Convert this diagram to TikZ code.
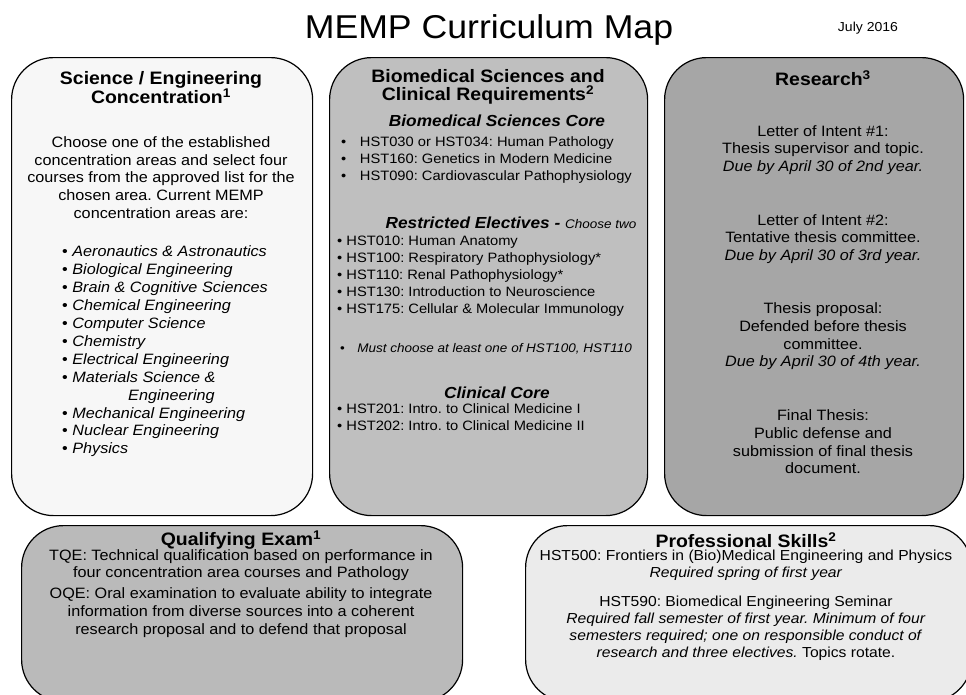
\documentclass[tikz,border=0pt]{standalone}
\usepackage{fontspec}
\setmainfont{Liberation Sans}[FakeStretch=1.08]
\usetikzlibrary{positioning}
\frenchspacing
\definecolor{sciFill}{HTML}{F7F7F7}
\definecolor{bioFill}{HTML}{BFBFBF}
\definecolor{resFill}{HTML}{A6A6A6}
\definecolor{quaFill}{HTML}{BABABA}
\definecolor{proFill}{HTML}{EBEBEB}
\newcommand\blt{\textbullet\ }
\tikzset{
  panel/.style={draw=black, line width=1.2pt, rounded corners=42pt, anchor=north west, inner sep=0pt},
  head/.style={font=\bfseries\fontsize{18}{19}\selectfont, align=center, inner sep=0pt},
  sub/.style={font=\bfseries\itshape\fontsize{16}{18}\selectfont, inner sep=0pt},
  body/.style={font=\fontsize{15}{17.7}\selectfont, align=center, inner sep=0pt},
  list/.style={font=\fontsize{13.6}{17}\selectfont, align=left, anchor=west, inner sep=0pt},
}
\begin{document}
\begin{tikzpicture}[x=1pt, y=1pt]
\useasboundingbox (0,0) rectangle (966,-694);
% title
\node[font=\fontsize{33}{40}\selectfont, inner sep=0pt] (title) at (489,-30) {MEMP Curriculum Map};
\node[font=\fontsize{13}{15}\selectfont, inner sep=0pt] (date) at (868,-28) {July 2016};
% panels
\node[panel, fill=sciFill, minimum width=301, minimum height=458] (sci) at (11,-57) {};
\node[panel, fill=bioFill, minimum width=318, minimum height=458] (bio) at (329,-57) {};
\node[panel, fill=resFill, minimum width=299, minimum height=458] (res) at (664,-57) {};
\node[panel, fill=quaFill, minimum width=441, minimum height=176] (qua) at (21,-525) {};
\node[panel, fill=proFill, minimum width=446, minimum height=176] (pro) at (525,-525) {};
% science / engineering
\node[head] (sciHead) at (161,-87.5) {Science / Engineering\\Concentration\textsuperscript{1}};
\node[body] (sciText) at (161,-177.5) {Choose one of the established\\concentration areas and select four\\courses from the approved list for the\\chosen area. Current MEMP\\concentration areas are:};
\node[list, font=\fontsize{15}{17.9}\selectfont] (sciList) at (62,-351.5) {\blt\textit{Aeronautics \& Astronautics}\\\blt\textit{Biological Engineering}\\\blt\textit{Brain \& Cognitive Sciences}\\\blt\textit{Chemical Engineering}\\\blt\textit{Computer Science}\\\blt\textit{Chemistry}\\\blt\textit{Electrical Engineering}\\\blt\textit{Materials Science \&}\\\hspace*{66pt}\textit{Engineering}\\\blt\textit{Mechanical Engineering}\\\blt\textit{Nuclear Engineering}\\\blt\textit{Physics}};
% biomedical sciences
\node[head] (bioHead) at (488,-76) {Biomedical Sciences and};
\node[head] (bioHeadB) at (488,-95) {Clinical Requirements\textsuperscript{2}};
\node[sub] (bioCore) at (497,-121) {Biomedical Sciences Core};
\node[list] (bioCoreList) at (341,-160) {\textbullet\quad HST030 or HST034: Human Pathology\\\textbullet\quad HST160: Genetics in Modern Medicine\\\textbullet\quad HST090: Cardiovascular Pathophysiology};
\node[sub] (bioElect) at (511,-223) {Restricted Electives - {\mdseries\fontsize{12.5}{15}\selectfont Choose two}};
\node[list] (bioElectList) at (337,-276) {\blt HST010: Human Anatomy\\\blt HST100: Respiratory Pathophysiology*\\\blt HST110: Renal Pathophysiology*\\\blt HST130: Introduction to Neuroscience\\\blt HST175: Cellular \& Molecular Immunology};
\node[list, font=\itshape\fontsize{12.5}{15}\selectfont] (bioNote) at (340,-349) {\textup{\textbullet}\quad Must choose at least one of HST100, HST110};
\node[sub] (bioClin) at (497,-393) {Clinical Core};
\node[list] (bioClinList) at (337,-417.5) {\blt HST201: Intro. to Clinical Medicine I\\\blt HST202: Intro. to Clinical Medicine II};
% research
\node[head] (resHead) at (823,-78) {Research\textsuperscript{3}};
\node[body] (resLoi1) at (823,-150) {Letter of Intent \#1:\\Thesis supervisor and topic.\\\textit{Due by April 30 of 2nd year.}};
\node[body] (resLoi2) at (823,-239) {Letter of Intent \#2:\\Tentative thesis committee.\\\textit{Due by April 30 of 3rd year.}};
\node[body] (resProp) at (823,-336.5) {Thesis proposal:\\Defended before thesis\\committee.\\\textit{Due by April 30 of 4th year.}};
\node[body] (resFinal) at (823,-442) {Final Thesis:\\Public defense and\\submission of final thesis\\document.};
% qualifying exam
\node[head] (quaHead) at (241,-540) {Qualifying Exam\textsuperscript{1}};
\node[body] (quaTqe) at (241,-565) {TQE: Technical qualification based on performance in\\four concentration area courses and Pathology};
\node[body] (quaOqe) at (241,-612.5) {OQE: Oral examination to evaluate ability to integrate\\information from diverse sources into a coherent\\research proposal and to defend that proposal};
% professional skills
\node[head] (proHead) at (746,-540) {Professional Skills\textsuperscript{2}};
\node[body, font=\fontsize{14.5}{17}\selectfont] (proFront) at (746,-565.5) {HST500: Frontiers in (Bio)Medical Engineering and Physics\\\textit{Required spring of first year}};
\node[body, font=\fontsize{14.5}{17}\selectfont] (proSem) at (746,-628.5) {HST590: Biomedical Engineering Seminar\\\textit{Required fall semester of first year. Minimum of four}\\\textit{semesters required; one on responsible conduct of}\\\textit{research and three electives.} Topics rotate.};
\end{tikzpicture}
\end{document}
